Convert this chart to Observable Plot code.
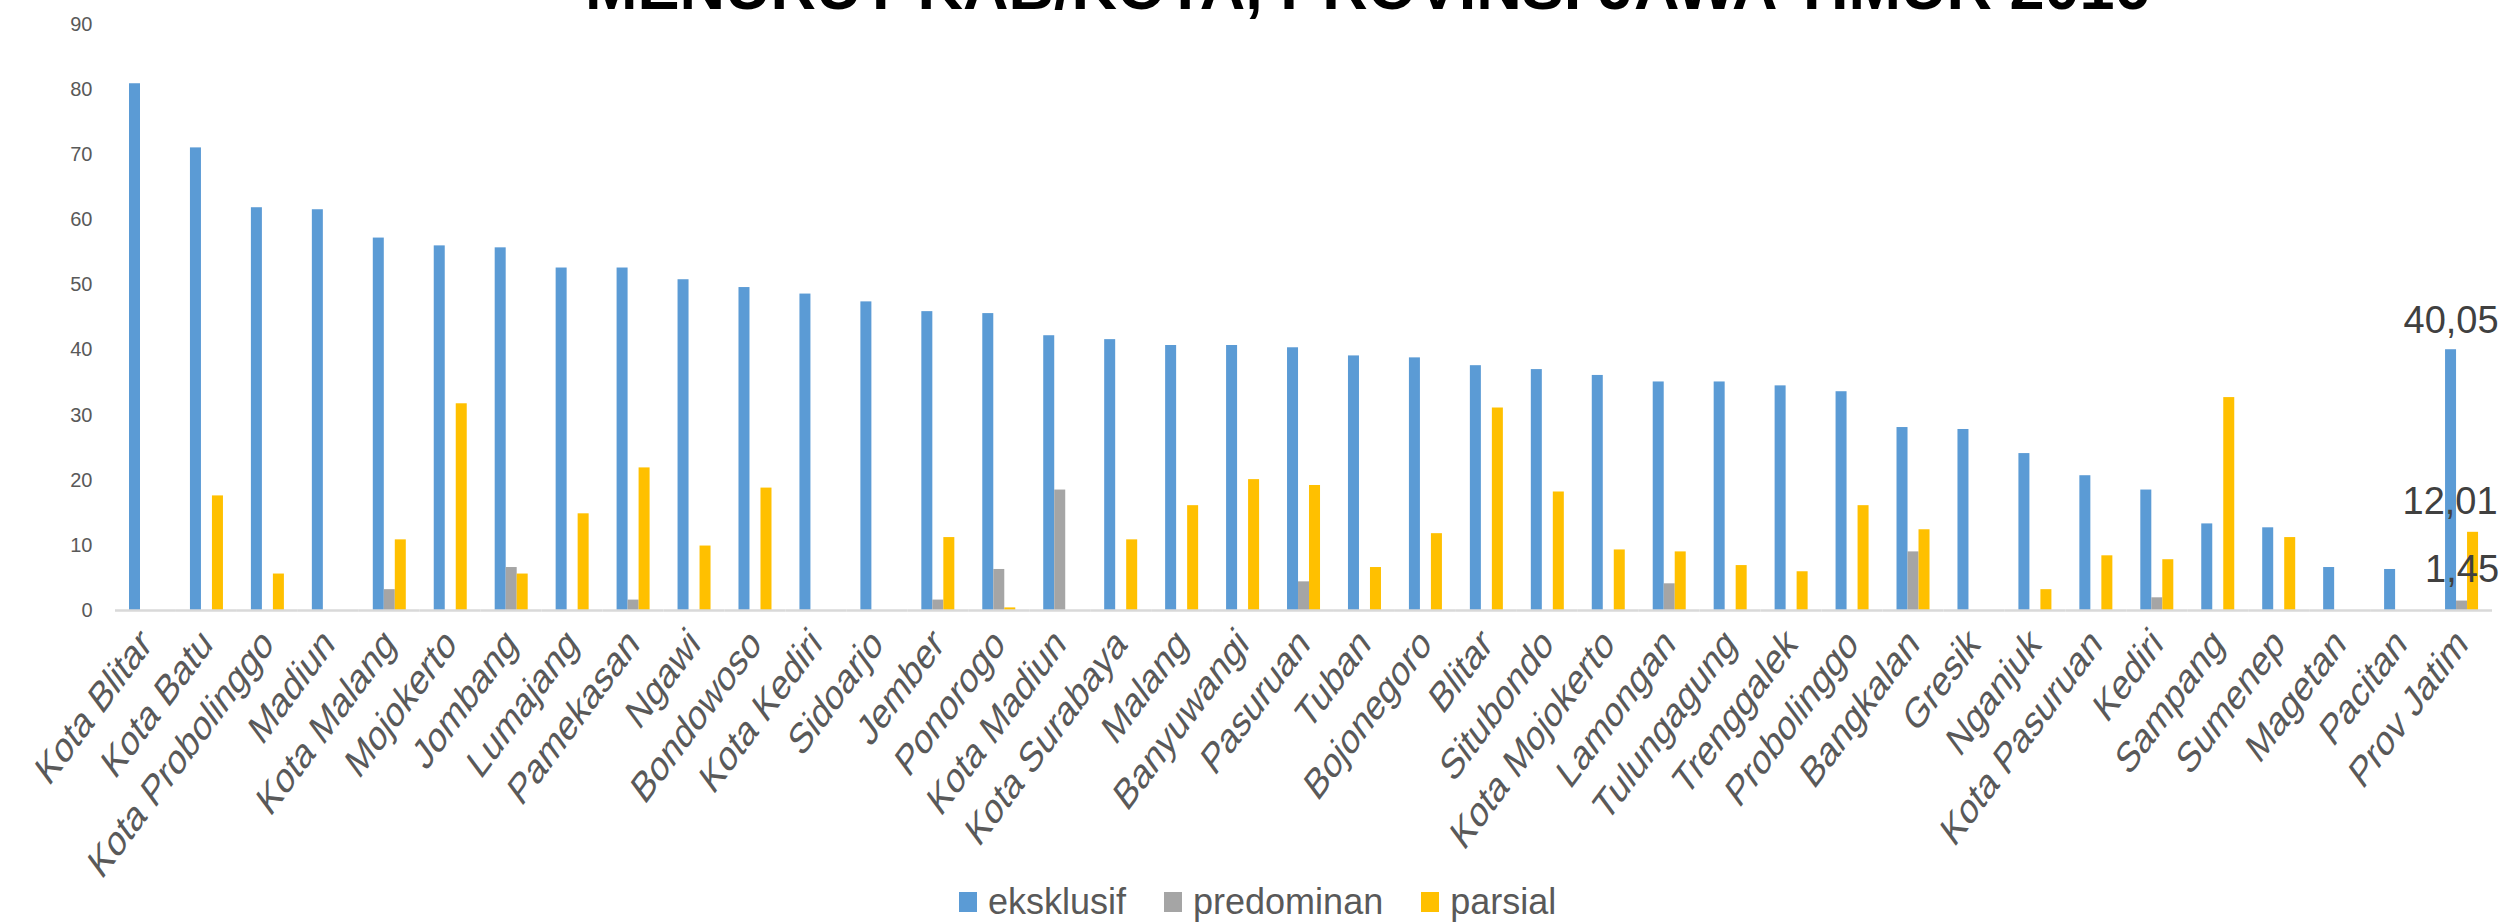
<!DOCTYPE html>
<html>
<head>
<meta charset="utf-8">
<script src="https://cdn.jsdelivr.net/npm/d3@7"></script>
<script src="https://cdn.jsdelivr.net/npm/@observablehq/plot@0.6"></script>
<style>
  html, body { margin: 0; padding: 0; background: #fff; width: 2504px; height: 922px; overflow: hidden; }
  #wrap { position: relative; width: 2504px; height: 922px; font-family: "Liberation Sans", Arial, sans-serif; }
  #title { position: absolute; left: 585px; top: -44px; font-size: 63px; line-height: 63px; font-weight: bold; color: #000; white-space: nowrap; }
  #chart { position: absolute; left: 0; top: 0; }
  #legend { position: absolute; left: 959px; top: 882px; height: 40px; display: flex; align-items: center; font-size: 36px; color: #595959; white-space: nowrap; }
  .item { display: flex; align-items: center; margin-right: 38px; }
  .sw { width: 18px; height: 20px; margin-right: 11px; }
</style>
</head>
<body>
<div id="wrap">
  <div id="chart"></div>
  <div id="title">MENURUT KAB/KOTA, PROVINSI JAWA TIMUR 2016</div>
  <div id="legend"></div>
</div>
<script>
const categories = ["Kota Blitar","Kota Batu","Kota Probolinggo","Madiun","Kota Malang","Mojokerto","Jombang","Lumajang","Pamekasan","Ngawi","Bondowoso","Kota Kediri","Sidoarjo","Jember","Ponorogo","Kota Madiun","Kota Surabaya","Malang","Banyuwangi","Pasuruan","Tuban","Bojonegoro","Blitar","Situbondo","Kota Mojokerto","Lamongan","Tulungagung","Trenggalek","Probolinggo","Bangkalan","Gresik","Nganjuk","Kota Pasuruan","Kediri","Sampang","Sumenep","Magetan","Pacitan","Prov Jatim"];

const eksklusif = [80.9,71.05,61.86,61.55,57.2,56.0,55.7,52.6,52.6,50.8,49.6,48.6,47.4,45.9,45.6,42.2,41.6,40.7,40.7,40.35,39.1,38.8,37.6,37.0,36.1,35.1,35.1,34.5,33.6,28.1,27.8,24.1,20.7,18.5,13.3,12.7,6.6,6.3,40.05];
const predominan = [0,0,0,0,3.2,0,6.6,0,1.6,0,0,0,0,1.6,6.3,18.5,0,0,0,4.4,0,0,0,0,0,4.1,0,0,0,9.0,0,0,0,1.95,0,0,0,0,1.45];
const parsial = [0,17.6,5.6,0,10.85,31.75,5.6,14.85,21.9,9.9,18.8,0,0,11.2,0.4,0,10.85,16.1,20.1,19.2,6.6,11.8,31.1,18.2,9.3,9.0,6.9,5.95,16.1,12.4,0,3.2,8.4,7.8,32.7,11.2,0,0,12.01];

const seriesNames = ["eksklusif","predominan","parsial"];
const seriesColors = ["#5B9BD5","#A5A5A5","#FFC000"];
const yTicks = [0,10,20,30,40,50,60,70,80,90];
const labelledCategory = "Prov Jatim";

const seriesValues = [eksklusif, predominan, parsial];
const data = [];
categories.forEach((c, i) => {
  seriesNames.forEach((s, j) => data.push({cat: c, series: s, value: seriesValues[j][i]}));
});
const fmt = v => v.toFixed(2).replace(".", ",");
const labelData = s => data.filter(d => d.cat === labelledCategory && d.series === s);

const W = 2504, H = 880;
const chart = Plot.plot({
  width: W,
  height: H,
  marginLeft: 115,
  marginRight: 12,
  marginTop: 24,
  marginBottom: H - 610,
  style: {background: "transparent", fontFamily: "'Liberation Sans', Arial, sans-serif", color: "#595959", overflow: "visible"},
  fx: {domain: categories, paddingInner: 0, paddingOuter: 0, label: null},
  x: {domain: seriesNames, axis: null, paddingInner: 0, paddingOuter: 1.04},
  y: {domain: [0, 90], axis: null},
  color: {domain: seriesNames, range: seriesColors},
  marks: [
    Plot.axisY({ticks: yTicks, tickSize: 0, tickPadding: 23, fontSize: 20, label: null, color: "#595959"}),
    Plot.axisFx({anchor: "bottom", tickRotate: -45, tickSize: 0, tickPadding: 26, fontSize: 32, label: null, color: "#595959"}),
    Plot.barY(data, {fx: "cat", x: "series", y: "value", fill: "series"}),
    Plot.ruleY([0], {stroke: "#d9d9d9", strokeWidth: 2.5}),
    Plot.text(labelData("eksklusif"), {fx: "cat", x: "series", y: "value", text: d => fmt(d.value), lineAnchor: "bottom", dy: -17, fontSize: 38, fill: "#404040"}),
    Plot.text(labelData("predominan"), {fx: "cat", x: "series", y: "value", text: d => fmt(d.value), lineAnchor: "bottom", dy: -19, fontSize: 38, fill: "#404040"}),
    Plot.text(labelData("parsial"), {fx: "cat", x: "series", y: "value", text: d => fmt(d.value), lineAnchor: "bottom", dy: -18, dx: -23, fontSize: 38, fill: "#404040"})
  ]
});
document.getElementById("chart").appendChild(chart);

// The reference's category labels look vertically stretched: scale them on y after rotation.
chart.querySelectorAll('g[aria-label^="fx-axis"] text').forEach(t => {
  const tr = t.getAttribute("transform");
  if (tr && tr.includes("rotate(")) t.setAttribute("transform", tr.replace(/rotate\(/, "scale(1,1.35) rotate("));
});

const legend = document.getElementById("legend");
seriesNames.forEach((s, i) => {
  const it = document.createElement("div");
  it.className = "item";
  const sw = document.createElement("div");
  sw.className = "sw";
  sw.style.background = seriesColors[i];
  const tx = document.createElement("span");
  tx.textContent = s;
  it.appendChild(sw); it.appendChild(tx);
  legend.appendChild(it);
});
</script>
</body>
</html>
